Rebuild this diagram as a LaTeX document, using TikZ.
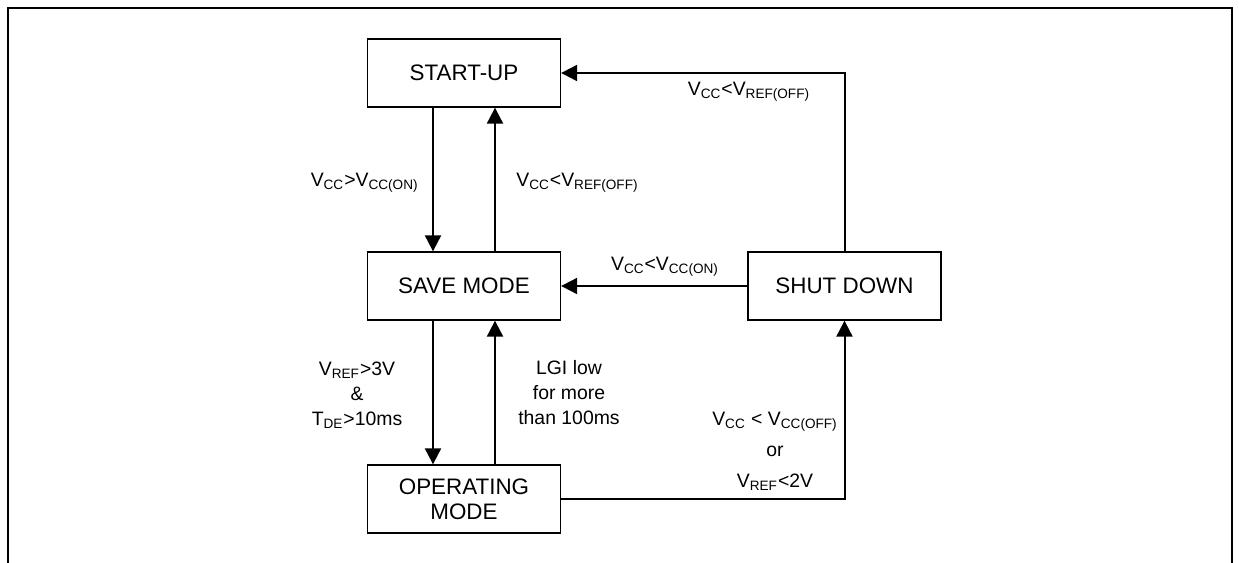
\documentclass[tikz,border=0pt]{standalone}
\usepackage{fontspec}
\setmainfont{Liberation Sans}
\usetikzlibrary{arrows.meta}
\newcommand{\sbs}[1]{\textsubscript{#1}}
\tikzset{
  state/.style={draw, line width=0.65pt, minimum width=96.5pt, minimum height=34pt,
    inner sep=2pt, align=center, font=\fontsize{11.2}{12.5}\selectfont},
  arr/.style={line width=1pt, -{Triangle[length=8pt,width=8pt]}},
  conn/.style={line width=1pt},
  lbl/.style={inner sep=0pt, align=center, font=\fontsize{9.7}{12.5}\selectfont},
  lblw/.style={inner sep=0pt, align=center, font=\fontsize{9.7}{15.5}\selectfont},
  frame/.style={line width=1pt}
}
\begin{document}
\begin{tikzpicture}[x=0.5pt,y=-0.5pt]
\fill[white] (0,0) rectangle (1239,563);
\useasboundingbox (0,0) rectangle (1239,563);
\draw[frame] (8,563) -- (8,7.5) -- (1232,7.5) -- (1232,563);

\node[state] (start) at (464,73) {START-UP};
\node[state] (save) at (464,286) {SAVE MODE};
\node[state] (op) at (464,499) {OPERATING\\MODE};
\node[state] (shut) at (844.5,286) {SHUT DOWN};

\draw[arr] ([xshift=-15.5pt]start.south) -- ([xshift=-15.5pt]save.north);
\draw[arr] ([xshift=15.5pt]save.north) -- ([xshift=15.5pt]start.south);
\draw[arr] ([xshift=-15.5pt]save.south) -- ([xshift=-15.5pt]op.north);
\draw[arr] ([xshift=15.5pt]op.north) -- ([xshift=15.5pt]save.south);
\draw[arr] (shut.west) -- (save.east);
\draw[arr] (shut.north) -- (shut.north |- start.east) -- (start.east);
\draw[arr] (op.east) -- (op.east -| shut.south) -- (shut.south);

\node[lbl, anchor=east] (l1) at (419,183) {V\sbs{CC}>V\sbs{CC(ON)}};
\node[lbl, anchor=west] (l2) at (516,183) {V\sbs{CC}<V\sbs{REF(OFF)}};
\node[lbl] (l3) at (749,92) {V\sbs{CC}<V\sbs{REF(OFF)}};
\node[lbl] (l4) at (665,267) {V\sbs{CC}<V\sbs{CC(ON)}};
\node[lbl] (l5) at (357,395) {V\sbs{REF}>3V\\\&\\T\sbs{DE}>10ms};
\node[lbl] (l6) at (569,393) {LGI low\\for more\\than 100ms};
\node[lblw] (l7) at (775,451) {V\sbs{CC} < V\sbs{CC(OFF)}\\or\\V\sbs{REF}<2V};
\end{tikzpicture}
\end{document}
